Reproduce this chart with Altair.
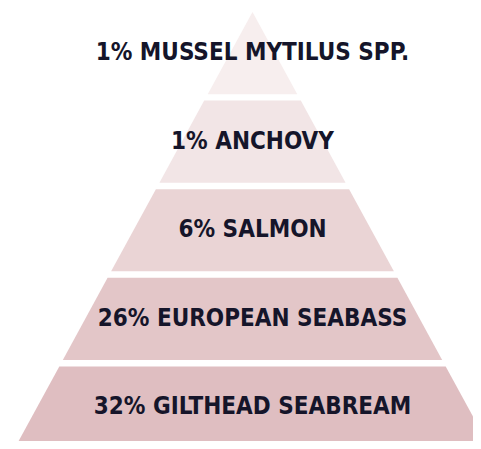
import altair as alt
import pandas as pd

# Data (top to bottom of the pyramid)
percents = [1, 1, 6, 26, 32]
species = ["MUSSEL MYTILUS SPP.", "ANCHOVY", "SALMON", "EUROPEAN SEABASS", "GILTHEAD SEABREAM"]
colors = ["#f7eeee", "#f2e5e6", "#ead4d5", "#e3c6c8", "#dfbec1"]

labels = [f"{p}% {s}" for p, s in zip(percents, species)]
GAP = 0.073  # gap between levels, in level units

rows = []
for i, lab in enumerate(labels):
    top = float(i)
    bot = i + 1 - GAP
    for yv in (top, bot):
        rows.append({"label": lab, "level": i, "y": yv, "xl": -yv, "xr": yv})
shape_df = pd.DataFrame(rows)

text_df = pd.DataFrame({
    "label": labels,
    "level": list(range(len(labels))),
    "yc": [i + (1 - GAP) / 2 for i in range(len(labels))],
    "xc": [0.0] * len(labels),
})

xscale = alt.Scale(domain=[-5, 5], range=[3, 486], nice=False, zero=False)
yscale = alt.Scale(domain=[0, 5], range=[4, 447], nice=False, zero=False)

area = alt.Chart(shape_df).mark_area(orient="horizontal", clip=False).encode(
    y=alt.Y("y:Q", scale=yscale, axis=None),
    x=alt.X("xl:Q", scale=xscale, axis=None, stack=None),
    x2="xr:Q",
    detail="label:N",
    color=alt.Color("label:N", scale=alt.Scale(domain=labels, range=colors), legend=None),
)

text = alt.Chart(text_df).mark_text(
    font="DejaVu Sans Condensed, Liberation Sans, Arial, sans-serif",
    fontWeight="bold",
    fontSize=24,
    color="#15152a",
    align="center",
    baseline="middle",
).encode(
    x=alt.X("xc:Q", scale=xscale, axis=None),
    y=alt.Y("yc:Q", scale=yscale, axis=None),
    text="label:N",
)

chart = alt.layer(area, text).properties(
    width=465, height=433, autosize="none", padding=0
).configure_view(stroke=None)

chart.save("out.html", embed_options={"renderer": "svg", "actions": False})
